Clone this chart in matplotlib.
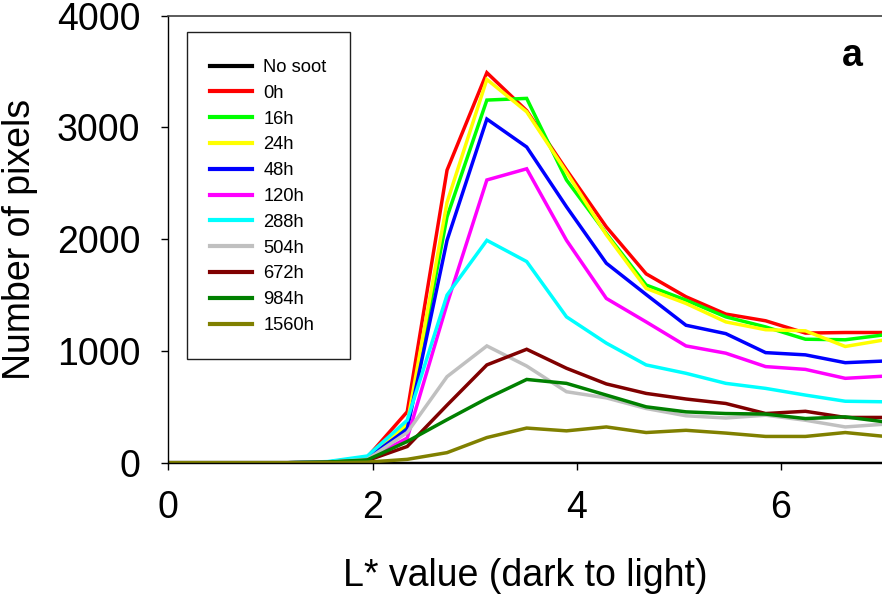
import matplotlib
matplotlib.use('Agg')
import matplotlib.pyplot as plt
from matplotlib.patches import Rectangle

plt.rcParams['font.family'] = ['Liberation Sans', 'DejaVu Sans']

# L* bin positions
l_values = [0.00, 0.39, 0.78, 1.17, 1.56, 1.95, 2.34, 2.73, 3.12, 3.51,
            3.90, 4.29, 4.68, 5.07, 5.46, 5.85, 6.24, 6.63, 7.02]

labels = ['No soot', '0h', '16h', '24h', '48h', '120h', '288h',
          '504h', '672h', '984h', '1560h']
colors = ['#000000', '#FF0000', '#00FF00', '#FFFF00', '#0000FF', '#FF00FF',
          '#00FFFF', '#C0C0C0', '#800000', '#008000', '#808000']

no_soot = [0] * 19
h0 = [0, 0, 0, 0, 5, 50, 456, 2618, 3490, 3150, 2620, 2110, 1690, 1485, 1330, 1270, 1160, 1165, 1165]
h16 = [0, 0, 0, 0, 5, 40, 330, 2200, 3245, 3260, 2530, 2050, 1590, 1455, 1305, 1215, 1105, 1100, 1145]
h24 = [0, 0, 0, 0, 5, 40, 350, 2330, 3430, 3140, 2600, 2040, 1560, 1425, 1260, 1190, 1180, 1040, 1100]
h48 = [0, 0, 0, 0, 5, 40, 300, 1990, 3075, 2825, 2290, 1785, 1505, 1230, 1155, 985, 965, 895, 910]
h120 = [0, 0, 0, 0, 5, 30, 220, 1420, 2530, 2630, 1990, 1470, 1260, 1045, 980, 860, 835, 755, 775]
h288 = [0, 0, 0, 0, 10, 60, 380, 1500, 1990, 1800, 1305, 1070, 875, 800, 710, 665, 605, 550, 545]
h504 = [0, 0, 0, 0, 5, 30, 270, 770, 1045, 865, 635, 580, 485, 420, 400, 425, 380, 320, 345]
h672 = [0, 0, 0, 0, 5, 20, 145, 515, 875, 1015, 845, 705, 620, 570, 530, 440, 460, 405, 405]
h984 = [0, 0, 0, 0, 5, 25, 190, 385, 575, 745, 710, 605, 500, 455, 440, 435, 395, 410, 365]
h1560 = [0, 0, 0, 0, 0, 5, 30, 90, 225, 310, 285, 320, 270, 290, 265, 235, 235, 270, 235]

series = [no_soot, h0, h16, h24, h48, h120, h288, h504, h672, h984, h1560]

W, H = 882, 594
fig = plt.figure(figsize=(W / 100, H / 100), dpi=100)
ax = fig.add_axes([168.3 / W, 1 - 462.7 / H, (W - 168.3) / W, 447 / H])

for vals, lab, col in zip(series, labels, colors):
    ax.plot(l_values, vals, color=col, lw=2.5, label=lab, solid_joinstyle='miter')

ax.set_xlim(0, 6.99)
ax.set_ylim(0, 4000)
ax.set_xticks([0, 2, 4, 6])
ax.set_yticks([0, 1000, 2000, 3000, 4000])
ax.tick_params(axis='both', direction='out', length=5, width=1,
               labelsize=27, pad=15)
ax.spines['right'].set_visible(False)
ax.spines['top'].set_color('#404040')
ax.spines['top'].set_linewidth(1.2)
for side in ['left', 'bottom']:
    ax.spines[side].set_linewidth(1)

ax.set_xlabel('L* value (dark to light)', fontsize=27, labelpad=23)
ax.set_ylabel('Number of pixels', fontsize=27, labelpad=14)

ax.text(0.958, 0.91, 'a', transform=ax.transAxes, fontsize=27,
        fontweight='bold', ha='center', va='center')

# legend without its own frame, boxed by a plain rectangle
leg = ax.legend(loc='upper left', bbox_to_anchor=(210 / W, 1 - 59 / H),
                bbox_transform=fig.transFigure, frameon=False, fontsize=13.2,
                handlelength=2.3, handletextpad=0.6, labelspacing=0.48,
                borderpad=0, borderaxespad=0)
for line in leg.get_lines():
    line.set_linewidth(3)
fig.add_artist(Rectangle((187 / W, 1 - 359 / H), 163 / W, 327 / H,
                         transform=fig.transFigure, fill=False,
                         edgecolor='#202020', lw=1))

fig.savefig('out.png', dpi=100)
